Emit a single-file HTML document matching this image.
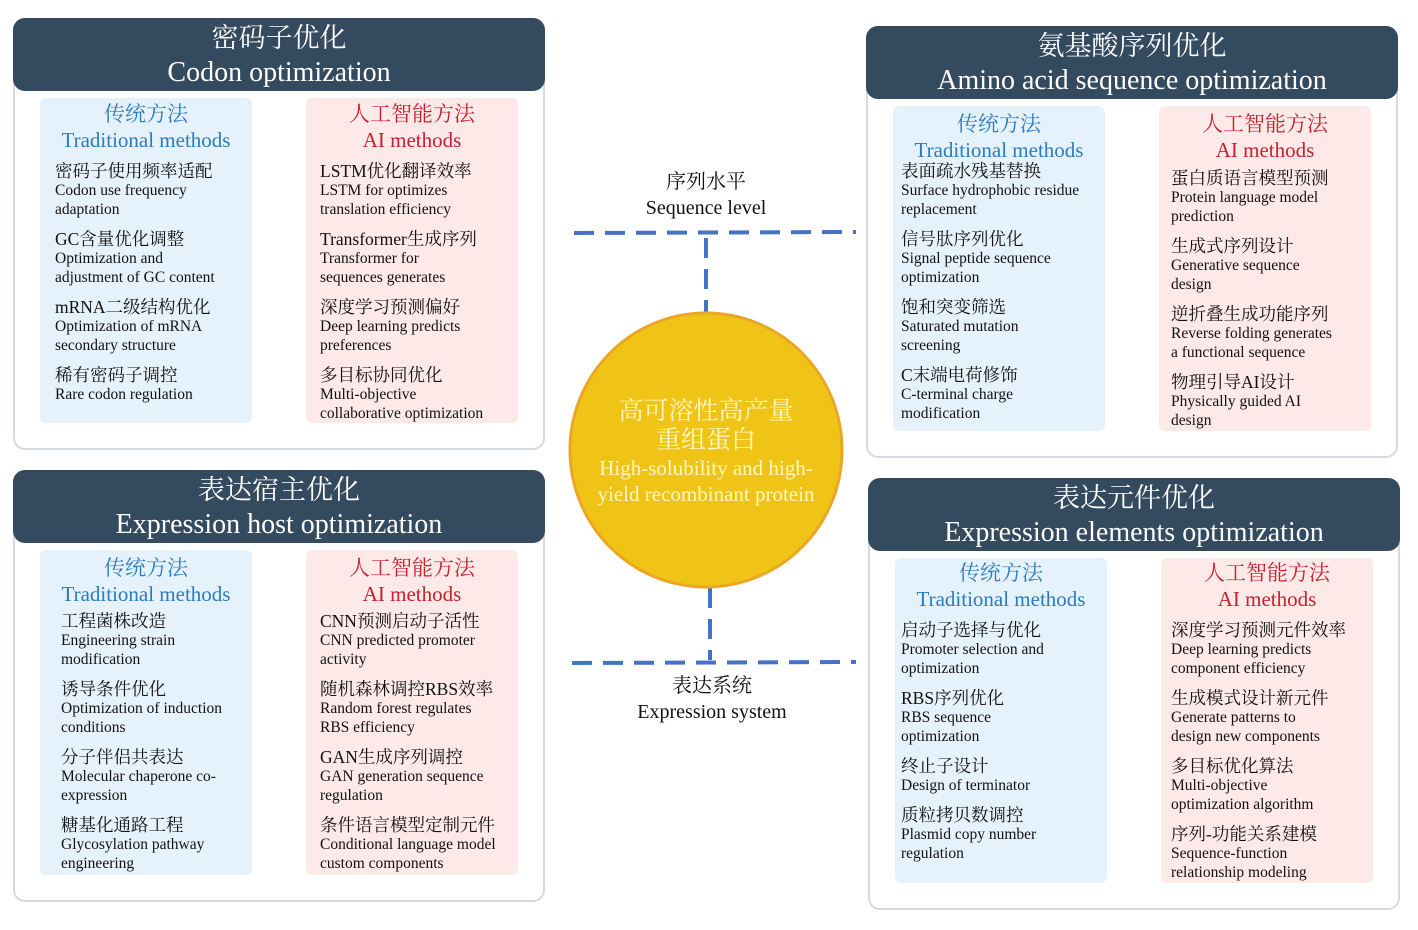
<!DOCTYPE html>
<html><head><meta charset="utf-8"><style>
*{margin:0;padding:0;box-sizing:border-box}
body{width:1418px;height:930px;background:#fff;position:relative;overflow:hidden;font-family:"Liberation Serif","Noto Serif CJK SC","Noto Sans CJK SC",serif;color:#111}
.panel{position:absolute;width:532px;height:432px;border:2px solid #d6d9dd;border-radius:12px}
.hdr{position:absolute;left:-2px;top:-2px;width:532px;height:73px;background:#344a5f;border-radius:12px;color:#fff;text-align:center;font-size:27px;line-height:34px;padding-top:3px}
.hdr .e{font-size:28px}
.box{position:absolute;width:212px;height:325px;border-radius:6px}
.t{background:#e6f2fb}.a{background:#fce9e8}
.ttl{position:absolute;left:0;right:0;top:3px;text-align:center;font-size:21px;line-height:26px}
.t .ttl{color:#2a7bbf}.a .ttl{color:#c8202e}
.items{position:absolute;top:63px;right:0}
.it{margin-bottom:10px}
.cn{font-size:17.5px;line-height:20px}
.en{font-size:15.5px;line-height:19px;white-space:nowrap}
.lbl{position:absolute;text-align:center;font-size:20px;line-height:26px;color:#111}
</style></head><body>

<svg width="1418" height="930" style="position:absolute;left:0;top:0">
<g stroke="#4472c4" stroke-width="4" stroke-dasharray="20,11" fill="none">
<line x1="574" y1="233" x2="856" y2="232"/>
<line x1="706" y1="238" x2="706" y2="312"/>
<line x1="572" y1="663" x2="856" y2="662"/>
<line x1="710" y1="588" x2="710" y2="660"/>
</g>
<ellipse cx="706" cy="450" rx="136" ry="137" fill="#f0c416" stroke="#eba624" stroke-width="3"/>
</svg>

<div class="lbl" style="left:606px;top:169px;width:200px">序列水平<br>Sequence level</div>
<div class="lbl" style="left:612px;top:673px;width:200px">表达系统<br>Expression system</div>
<div class="lbl" style="left:576px;top:397px;width:260px;color:#fff7c0;font-size:25px;line-height:29px">高可溶性高产量<br>重组蛋白</div>
<div class="lbl" style="left:581px;top:455px;width:250px;color:#fff7c0;font-size:21px;line-height:26px">High-solubility and high-<br>yield recombinant protein</div>

<!-- Panel 1 -->
<div class="panel" style="left:13px;top:18px">
<div class="hdr">密码子优化<br><span class="e">Codon optimization</span></div>
<div class="box t" style="left:25px;top:78px"><div class="ttl">传统方法<br>Traditional methods</div>
<div class="items" style="left:15px">
<div class="it"><div class="cn">密码子使用频率适配</div><div class="en">Codon use frequency<br>adaptation</div></div>
<div class="it"><div class="cn">GC含量优化调整</div><div class="en">Optimization and<br>adjustment of GC content</div></div>
<div class="it"><div class="cn">mRNA二级结构优化</div><div class="en">Optimization of mRNA<br>secondary structure</div></div>
<div class="it"><div class="cn">稀有密码子调控</div><div class="en">Rare codon regulation</div></div>
</div></div>
<div class="box a" style="left:291px;top:78px"><div class="ttl">人工智能方法<br>AI methods</div>
<div class="items" style="left:14px">
<div class="it"><div class="cn">LSTM优化翻译效率</div><div class="en">LSTM for optimizes<br>translation efficiency</div></div>
<div class="it"><div class="cn">Transformer生成序列</div><div class="en">Transformer for<br>sequences generates</div></div>
<div class="it"><div class="cn">深度学习预测偏好</div><div class="en">Deep learning predicts<br>preferences</div></div>
<div class="it"><div class="cn">多目标协同优化</div><div class="en">Multi-objective<br>collaborative optimization</div></div>
</div></div>
</div>

<!-- Panel 2 -->
<div class="panel" style="left:866px;top:26px">
<div class="hdr">氨基酸序列优化<br><span class="e">Amino acid sequence optimization</span></div>
<div class="box t" style="left:25px;top:78px"><div class="ttl" style="top:5px">传统方法<br>Traditional methods</div>
<div class="items" style="left:8px;top:55px">
<div class="it"><div class="cn">表面疏水残基替换</div><div class="en">Surface hydrophobic residue<br>replacement</div></div>
<div class="it"><div class="cn">信号肽序列优化</div><div class="en">Signal peptide sequence<br>optimization</div></div>
<div class="it"><div class="cn">饱和突变筛选</div><div class="en">Saturated mutation<br>screening</div></div>
<div class="it"><div class="cn">C末端电荷修饰</div><div class="en">C-terminal charge<br>modification</div></div>
</div></div>
<div class="box a" style="left:291px;top:78px"><div class="ttl" style="top:5px">人工智能方法<br>AI methods</div>
<div class="items" style="left:12px;top:62px">
<div class="it"><div class="cn">蛋白质语言模型预测</div><div class="en">Protein language model<br>prediction</div></div>
<div class="it"><div class="cn">生成式序列设计</div><div class="en">Generative sequence<br>design</div></div>
<div class="it"><div class="cn">逆折叠生成功能序列</div><div class="en">Reverse folding generates<br>a functional sequence</div></div>
<div class="it"><div class="cn">物理引导AI设计</div><div class="en">Physically guided AI<br>design</div></div>
</div></div>
</div>

<!-- Panel 3 -->
<div class="panel" style="left:13px;top:470px">
<div class="hdr">表达宿主优化<br><span class="e">Expression host optimization</span></div>
<div class="box t" style="left:25px;top:78px"><div class="ttl" style="top:5px">传统方法<br>Traditional methods</div>
<div class="items" style="left:21px;top:61px">
<div class="it"><div class="cn">工程菌株改造</div><div class="en">Engineering strain<br>modification</div></div>
<div class="it"><div class="cn">诱导条件优化</div><div class="en">Optimization of induction<br>conditions</div></div>
<div class="it"><div class="cn">分子伴侣共表达</div><div class="en">Molecular chaperone co-<br>expression</div></div>
<div class="it"><div class="cn">糖基化通路工程</div><div class="en">Glycosylation pathway<br>engineering</div></div>
</div></div>
<div class="box a" style="left:291px;top:78px"><div class="ttl" style="top:5px">人工智能方法<br>AI methods</div>
<div class="items" style="left:14px;top:61px">
<div class="it"><div class="cn">CNN预测启动子活性</div><div class="en">CNN predicted promoter<br>activity</div></div>
<div class="it"><div class="cn">随机森林调控RBS效率</div><div class="en">Random forest regulates<br>RBS efficiency</div></div>
<div class="it"><div class="cn">GAN生成序列调控</div><div class="en">GAN generation sequence<br>regulation</div></div>
<div class="it"><div class="cn">条件语言模型定制元件</div><div class="en">Conditional language model<br>custom components</div></div>
</div></div>
</div>

<!-- Panel 4 -->
<div class="panel" style="left:868px;top:478px">
<div class="hdr">表达元件优化<br><span class="e">Expression elements optimization</span></div>
<div class="box t" style="left:25px;top:78px"><div class="ttl" style="top:2px">传统方法<br>Traditional methods</div>
<div class="items" style="left:6px;top:62px">
<div class="it"><div class="cn">启动子选择与优化</div><div class="en">Promoter selection and<br>optimization</div></div>
<div class="it"><div class="cn">RBS序列优化</div><div class="en">RBS sequence<br>optimization</div></div>
<div class="it"><div class="cn">终止子设计</div><div class="en">Design of terminator</div></div>
<div class="it"><div class="cn">质粒拷贝数调控</div><div class="en">Plasmid copy number<br>regulation</div></div>
</div></div>
<div class="box a" style="left:291px;top:78px"><div class="ttl" style="top:2px">人工智能方法<br>AI methods</div>
<div class="items" style="left:10px;top:62px">
<div class="it"><div class="cn">深度学习预测元件效率</div><div class="en">Deep learning predicts<br>component efficiency</div></div>
<div class="it"><div class="cn">生成模式设计新元件</div><div class="en">Generate patterns to<br>design new components</div></div>
<div class="it"><div class="cn">多目标优化算法</div><div class="en">Multi-objective<br>optimization algorithm</div></div>
<div class="it"><div class="cn">序列-功能关系建模</div><div class="en">Sequence-function<br>relationship modeling</div></div>
</div></div>
</div>

</body></html>
